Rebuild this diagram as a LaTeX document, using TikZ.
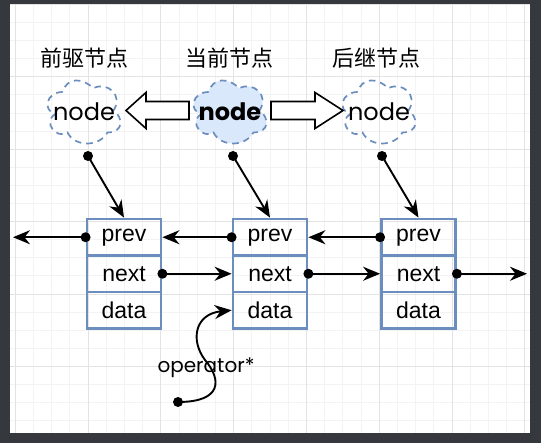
\documentclass[tikz,border=0pt]{standalone}
\usepackage{fontspec}
\setmainfont{Liberation Sans}
\newfontfamily\cjkfont{Noto Sans CJK SC}
\newfontfamily\handfont{Poppins}
\usetikzlibrary{arrows.meta,calc}
\definecolor{framebg}{HTML}{35383C}
\definecolor{gridmajor}{HTML}{E3E3E3}
\definecolor{gridminor}{HTML}{F3F3F3}
\definecolor{boxblue}{HTML}{6C8EBF}
\definecolor{cloudfill}{HTML}{DAE8FC}
\tikzset{
  cell/.style={draw=boxblue, line width=2.8pt, minimum width=74pt, minimum height=36.5pt,
    inner sep=0pt, font=\fontsize{23}{23}\selectfont},
  title/.style={font=\cjkfont\fontsize{22}{22}\selectfont, inner sep=0pt},
  nodetext/.style={font=\handfont\fontsize{24}{24}\selectfont, inner sep=0pt},
  link/.style={line width=1.9pt, -{Stealth[length=17pt,width=14pt,inset=5.5pt]}},
  blockarrow/.style={draw=black, fill=white, line width=1.6pt, line join=miter},
  clouddash/.style={draw=boxblue, line width=1.7pt, dash pattern=on 6.5pt off 5pt},
}
\newcommand\mycloud[3]{%
  \begin{scope}[shift={(#1,#2)}, x=81.5pt, y=-73.6pt]
    \path[#3] (0.25,0.25) .. controls (0.05,0.25) and (0,0.5) .. (0.16,0.55)
      .. controls (0,0.66) and (0.18,0.9) .. (0.31,0.8)
      .. controls (0.4,1) and (0.7,1) .. (0.8,0.8)
      .. controls (1,0.8) and (1,0.6) .. (0.875,0.5)
      .. controls (1,0.3) and (0.8,0.1) .. (0.625,0.2)
      .. controls (0.5,0.05) and (0.3,0.05) .. (0.25,0.25) -- cycle;
  \end{scope}}
\begin{document}
\begin{tikzpicture}[x=1pt, y=-1pt]
  % frame and canvas
  \fill[framebg] (0,0) rectangle (541,443);
  \fill[white] (10,5) rectangle (530,433);
  \begin{scope}
    \clip (10,5) rectangle (530,433);
    \foreach \i in {0,...,28} {
      \draw[gridminor, line width=0.8pt] ({15.2+18.2*\i},5) -- ({15.2+18.2*\i},433);
    }
    \foreach \j in {0,...,23} {
      \draw[gridminor, line width=0.8pt] (10,{4.4+18.1*\j}) -- (530,{4.4+18.1*\j});
    }
    \foreach \i in {0,...,7} {
      \draw[gridmajor, line width=0.9pt] ({15.2+72.8*\i},5) -- ({15.2+72.8*\i},433);
    }
    \foreach \j in {0,...,5} {
      \draw[gridmajor, line width=0.9pt] (10,{4.4+72.4*\j}) -- (530,{4.4+72.4*\j});
    }
  \end{scope}

  % titles
  \node[title] (t1) at (84,58) {前驱节点};
  \node[title] (t2) at (229,58) {当前节点};
  \node[title] (t3) at (376,58) {后继节点};

  % clouds
  \mycloud{42.2}{73.6}{clouddash}
  \mycloud{188.2}{73.6}{clouddash, fill=cloudfill}
  \mycloud{337.2}{73.6}{clouddash}
  \node[nodetext] (c1) at (84,112) {node};
  \node[nodetext, font=\handfont\bfseries\fontsize{24}{24}\selectfont] (c2) at (230,112) {node};
  \node[nodetext] (c3) at (379,112) {node};

  % block arrows
  \path[blockarrow] (126,110.5) -- (146,92.5) -- (146,101.5) -- (189,101.5) -- (189,119.5)
    -- (146,119.5) -- (146,128.5) -- cycle;
  \path[blockarrow] (343,110.5) -- (315,92.5) -- (315,101.5) -- (271,101.5) -- (271,119.5)
    -- (315,119.5) -- (315,128.5) -- cycle;

  % list cells
  \foreach \k/\x in {1/124, 2/270, 3/418.5} {
    \node[cell] (p\k) at (\x,237.25) {prev};
    \node[cell] (n\k) at (\x,273.75) {next};
    \node[cell] (d\k) at (\x,310.25) {data};
  }

  % pointer dots under clouds
  \coordinate (q1) at (88,156);
  \coordinate (q2) at (233,156);
  \coordinate (q3) at (382,156);
  \coordinate (lend) at (13,237.25);
  \coordinate (rend) at (527,273.75);
  \coordinate (opdot) at (178,402);
  \coordinate (opmid) at (205,360);

  \foreach \k in {1,2,3} {
    \draw[link] (q\k) -- (p\k.north);
    \fill (q\k) circle (5pt);
  }

  % prev links
  \draw[link] (p1.west) -- (lend);
  \draw[link] (p2.west) -- (p1.east);
  \draw[link] (p3.west) -- (p2.east);
  \fill (p1.west) circle (5pt);
  \fill (p2.west) circle (5pt);
  \fill (p3.west) circle (5pt);

  % next links
  \draw[link] (n1.east) -- (n2.west);
  \draw[link] (n2.east) -- (n3.west);
  \draw[link] (n3.east) -- (rend);
  \fill (n1.east) circle (5pt);
  \fill (n2.east) circle (5pt);
  \fill (n3.east) circle (5pt);

  % operator*
  \draw[link] (opdot) .. controls (222,402) and (222,380) .. (opmid)
    .. controls (190,340) and (195,314) .. (d2.west);
  \fill (opdot) circle (5pt);
  \node[nodetext, font=\handfont\fontsize{20}{20}\selectfont] (op) at (206,368) {operator*};
\end{tikzpicture}
\end{document}
